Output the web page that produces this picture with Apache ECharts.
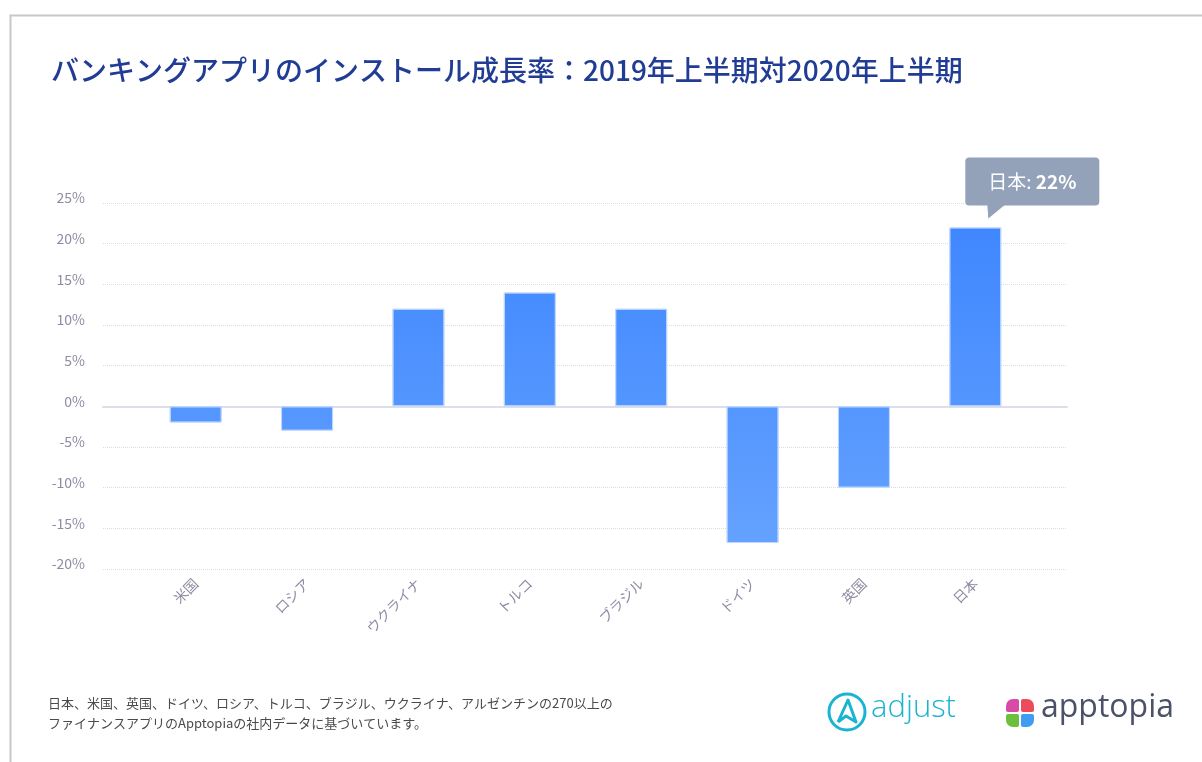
<!DOCTYPE html>
<html>
<head>
<meta charset="utf-8">
<script src="https://cdn.jsdelivr.net/npm/echarts@6/dist/echarts.min.js"></script>
<style>
  html, body { margin: 0; padding: 0; background: #fff; }
  #chart { width: 1202px; height: 762px; }
</style>
</head>
<body>
<div id="chart"></div>
<script>
const categories = ['米国', 'ロシア', 'ウクライナ', 'トルコ', 'ブラジル', 'ドイツ', '英国', '日本'];
const growth = [-2, -3, 12, 14, 12, -16.8, -10, 22];
const yTicks = { min: -20, max: 25, step: 5 };
const highlight = { name: '日本', value: 22 };

const font = '"Noto Sans CJK JP", "Noto Sans", sans-serif';
const axisGrey = '#8c8ca4';

let chart = echarts.init(document.getElementById('chart'));

const barColor = new echarts.graphic.LinearGradient(0, 203, 0, 569, [
  { offset: 0, color: '#3d85ff' },
  { offset: 1, color: '#67a4ff' }
], true);

chart.setOption({
  animation: false,
  textStyle: { fontFamily: font },
  title: {
    text: 'バンキングアプリのインストール成長率：2019年上半期対2020年上半期',
    left: 46,
    top: 51,
    textStyle: { color: '#213c94', fontSize: 28, fontWeight: 500, fontFamily: font }
  },
  grid: [
    { left: 103, right: 135, top: 203, bottom: 193 },
    { left: 140, right: 171, top: 203, bottom: 193 }
  ],
  xAxis: [
    {
      gridIndex: 0,
      type: 'category',
      data: [''],
      axisLine: { show: true, onZero: true, lineStyle: { color: '#dedee8', width: 2 } },
      axisTick: { show: false },
      axisLabel: { show: false }
    },
    {
      gridIndex: 1,
      type: 'category',
      data: categories,
      axisLine: { show: false },
      axisTick: { show: false },
      axisLabel: {
        rotate: 45,
        margin: 12,
        color: axisGrey,
        fontSize: 14,
        fontFamily: font
      }
    }
  ],
  yAxis: [
    {
      gridIndex: 0,
      type: 'value',
      min: yTicks.min,
      max: yTicks.max,
      interval: yTicks.step,
      axisLine: { show: false },
      axisTick: { show: false },
      axisLabel: {
        formatter: '{value}%',
        color: axisGrey,
        fontSize: 14,
        margin: 18,
        verticalAlign: 'bottom',
        lineHeight: 10,
        fontFamily: font
      },
      splitLine: { lineStyle: { type: 'dotted', color: '#dcdcdc', width: 1 } }
    },
    {
      gridIndex: 1,
      type: 'value',
      min: yTicks.min,
      max: yTicks.max,
      interval: yTicks.step,
      show: false,
      splitLine: { show: false }
    }
  ],
  series: [
    {
      type: 'line',
      xAxisIndex: 0,
      yAxisIndex: 0,
      data: [],
      silent: true
    },
    {
      type: 'bar',
      xAxisIndex: 1,
      yAxisIndex: 1,
      data: growth,
      barWidth: 52,
      itemStyle: {
        color: barColor,
        borderColor: 'rgba(190,215,255,0.9)',
        borderWidth: 1
      }
    }
  ]
});

// callout for the highlighted bar, placed from the bar's own pixel position
let pt = chart.convertToPixel({ seriesIndex: 1 }, [highlight.name, highlight.value]);
let bx = pt[0] - 10, by = pt[1] - 70;

chart.setOption({
  graphic: [
    {
      type: 'rect',
      left: 8, top: 13,
      shape: { width: 1400, height: 900 },
      style: { fill: 'none', stroke: '#c8c8c8', lineWidth: 2 },
      silent: true
    },
    {
      type: 'rect',
      shape: { x: bx, y: by, width: 134, height: 48, r: 4 },
      style: { fill: '#93a1b9' }
    },
    {
      type: 'polygon',
      shape: { points: [[pt[0] + 12, pt[1] - 23], [pt[0] + 30, pt[1] - 23], [pt[0] + 13, pt[1] - 9]] },
      style: { fill: '#93a1b9' }
    },
    {
      type: 'text',
      x: bx + 67, y: by + 24,
      style: {
        text: '{a|' + highlight.name + ': }{b|' + highlight.value + '%}',
        align: 'center',
        verticalAlign: 'middle',
        rich: {
          a: { fontSize: 19, fill: '#ffffff', fontFamily: font },
          b: { fontSize: 19, fill: '#ffffff', fontWeight: 'bold', fontFamily: font }
        }
      }
    },
    {
      type: 'text',
      left: 48, top: 693,
      style: {
        text: '日本、米国、英国、ドイツ、ロシア、トルコ、ブラジル、ウクライナ、アルゼンチンの270以上の\nファイナンスアプリのApptopiaの社内データに基づいています。',
        fontSize: 13,
        lineHeight: 20,
        fill: '#4a4a4a',
        fontFamily: font
      }
    },
    // adjust logo
    {
      type: 'circle',
      shape: { cx: 847, cy: 712, r: 18 },
      style: { fill: 'none', stroke: '#1ab4d2', lineWidth: 3 }
    },
    {
      type: 'polyline',
      shape: { points: [[838, 722], [848, 700], [856, 722], [846, 716], [838, 722]] },
      style: { fill: 'none', stroke: '#1ab4d2', lineWidth: 3, lineJoin: 'round' }
    },
    {
      type: 'text',
      left: 871, top: 693,
      style: { text: 'adjust', fontSize: 31, fill: '#1ab4d2', fontFamily: '"Open Sans", sans-serif', fontWeight: 300 }
    },
    // apptopia logo
    {
      type: 'rect',
      shape: { x: 1006, y: 699, width: 13, height: 13, r: [7, 2, 2, 2] },
      style: { fill: '#d84aa6' }
    },
    {
      type: 'rect',
      shape: { x: 1021, y: 699, width: 13, height: 13, r: [2, 7, 2, 2] },
      style: { fill: '#ec4b5c' }
    },
    {
      type: 'rect',
      shape: { x: 1006, y: 714, width: 13, height: 13, r: [2, 2, 2, 7] },
      style: { fill: '#6cbf3d' }
    },
    {
      type: 'rect',
      shape: { x: 1021, y: 714, width: 13, height: 13, r: [2, 2, 7, 2] },
      style: { fill: '#3f9cf1' }
    },
    {
      type: 'text',
      left: 1041, top: 692,
      style: { text: 'apptopia', fontSize: 32, fill: '#4b5169', fontFamily: '"Open Sans", sans-serif' }
    }
  ]
});
</script>
</body>
</html>
